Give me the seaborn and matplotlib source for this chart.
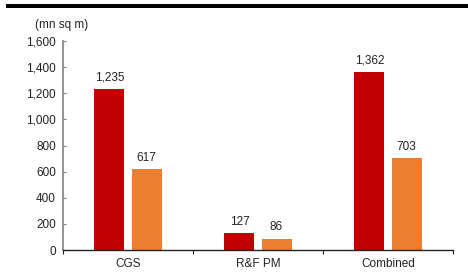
import matplotlib
matplotlib.use("Agg")
import matplotlib.pyplot as plt
import seaborn as sns
import pandas as pd
from matplotlib.patches import Rectangle
from matplotlib.ticker import FuncFormatter, FixedLocator

categories = ["CGS", "R&F PM", "Combined"]
series_names = ["A", "B"]
values_a = [1235, 127, 1362]
values_b = [617, 86, 703]
yticks = [0, 200, 400, 600, 800, 1000, 1200, 1400, 1600]

df = pd.DataFrame({
    "cat": categories * 2,
    "series": [series_names[0]] * 3 + [series_names[1]] * 3,
    "val": values_a + values_b,
})

sns.set_style("white")
plt.rcParams['font.family'] = ['Liberation Sans', 'DejaVu Sans']

fig = plt.figure(figsize=(4.68, 2.73), dpi=100)
ax = fig.add_axes([0.1346, 0.0842, 0.8334, 0.7656])

sns.barplot(data=df, x="cat", y="val", hue="series",
            palette=["#C00000", "#ED7D31"], saturation=1, width=0.57, gap=0.19,
            legend=False, ax=ax, edgecolor="none")

for cont in ax.containers:
    ax.bar_label(cont, labels=[f"{v:,.0f}" for v in cont.datavalues],
                 padding=4, fontsize=8.5, color="#222222")

ax.set_xlim(-0.5, 2.5)
ax.set_ylim(0, 1600)
ax.set_yticks(yticks)
ax.yaxis.set_major_formatter(FuncFormatter(lambda v, p: f"{v:,.0f}"))
ax.set_xlabel("")
ax.set_ylabel("")
ax.tick_params(axis="y", direction="in", length=2.5, width=0.8, color="#808080",
               labelsize=8.5, pad=5, left=True, labelcolor="#222222")
ax.tick_params(axis="x", which="major", length=0, labelsize=8.5, pad=6,
               labelcolor="#222222")
ax.xaxis.set_minor_locator(FixedLocator([-0.5, 0.5, 1.5, 2.5]))
ax.tick_params(axis="x", which="minor", direction="out", length=3, width=0.8,
               color="#222222", bottom=True)

for s in ["top", "right"]:
    ax.spines[s].set_visible(False)
ax.spines["left"].set_color("#808080")
ax.spines["left"].set_linewidth(1.2)
ax.spines["bottom"].set_color("#222222")
ax.spines["bottom"].set_linewidth(1.0)

fig.text(62 / 468, 1 - 25 / 273, "(mn sq m)", ha="center", va="center",
         fontsize=8.5, color="#222222")
fig.add_artist(Rectangle((6 / 468, 1 - 7.5 / 273), 462 / 468, 3.8 / 273,
                         transform=fig.transFigure, color="black", lw=0))

fig.savefig("out.png", dpi=100)
